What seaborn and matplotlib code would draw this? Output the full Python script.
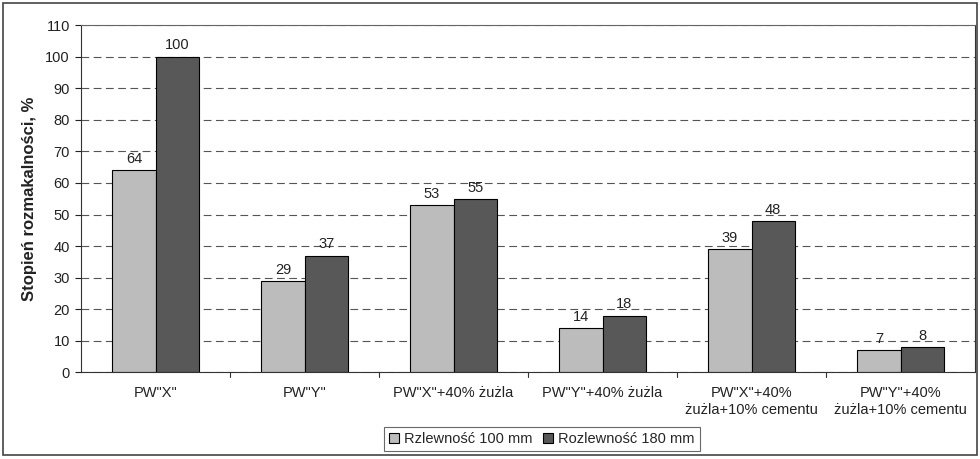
import matplotlib
matplotlib.use("Agg")
import matplotlib.pyplot as plt
import seaborn as sns
import pandas as pd
from matplotlib.patches import Rectangle

categories = ['PW"X"', 'PW"Y"', 'PW"X"+40% żużla', 'PW"Y"+40% żużla',
              'PW"X"+40%\nżużla+10% cementu', 'PW"Y"+40%\nżużla+10% cementu']
series_names = ["Rzlewność 100 mm", "Rozlewność 180 mm"]
values_100 = [64, 29, 53, 14, 39, 7]
values_180 = [100, 37, 55, 18, 48, 8]
y_ticks = list(range(0, 111, 10))

df = pd.DataFrame({
    "kategoria": categories * 2,
    "seria": [series_names[0]] * len(categories) + [series_names[1]] * len(categories),
    "wartosc": values_100 + values_180,
})

sns.set_style("white")
plt.rcParams["font.family"] = ["Liberation Sans", "DejaVu Sans"]

fig = plt.figure(figsize=(9.8, 4.59), dpi=100)
ax = fig.add_axes([0.0827, 0.1885, 0.9123, 0.757])

palette = {series_names[0]: "#bcbcbc", series_names[1]: "#585858"}
sns.barplot(data=df, x="kategoria", y="wartosc", hue="seria", order=categories,
            hue_order=series_names, palette=palette, width=0.58, gap=0,
            edgecolor="black", linewidth=0.8, saturation=1, ax=ax, legend=True)

for cont in ax.containers:
    ax.bar_label(cont, labels=[f"{v:g}" for v in cont.datavalues],
                 padding=3, fontsize=10.5, color="#222222")

ax.set_ylim(0, 110)
ax.set_xlim(-0.5, len(categories) - 0.5)
ax.set_yticks(y_ticks)
ax.tick_params(axis="y", labelsize=10.5, length=4, width=0.8, direction="out",
               left=True, colors="#222222", pad=4)
ax.tick_params(axis="x", labelsize=10.5, length=0, pad=10, colors="#222222")
ax.set_xticks(range(len(categories)))
ax.set_xticklabels(categories)
# category separator ticks on x axis
for b in range(1, len(categories)):
    ax.plot([b - 0.5, b - 0.5], [0, -1.3], color="#333333", lw=0.8,
            clip_on=False)

ax.yaxis.grid(True, linestyle=(0, (7, 4)), color="#555555", linewidth=0.8)
ax.set_axisbelow(True)
ax.set_xlabel("")
ax.set_ylabel("Stopień rozmakalności, %", fontsize=12, fontweight="bold",
              color="#222222", labelpad=6)

for s in ["left", "bottom", "right"]:
    ax.spines[s].set_visible(True)
    ax.spines[s].set_color("#333333")
    ax.spines[s].set_linewidth(0.8)
ax.spines["top"].set_linestyle((0, (1, 1)))
ax.spines["top"].set_color("#666666")
ax.spines["top"].set_linewidth(0.8)

handles, labels = ax.get_legend_handles_labels()
ax.legend_.remove()
leg = fig.legend(handles, labels, loc="center", bbox_to_anchor=(0.553, 0.043),
                 ncol=2, fontsize=10.5, frameon=True, fancybox=False,
                 edgecolor="#444444", handlelength=0.7, handleheight=0.7,
                 handletextpad=0.35, columnspacing=0.7, borderpad=0.35,
                 borderaxespad=0)
leg.get_frame().set_linewidth(0.8)

# outer frame around the whole chart
fig.patches.append(Rectangle((0.003, 0.008), 0.994, 0.985, transform=fig.transFigure,
                             fill=False, edgecolor="#444444", linewidth=1.2))

fig.savefig("out.png", dpi=100)
